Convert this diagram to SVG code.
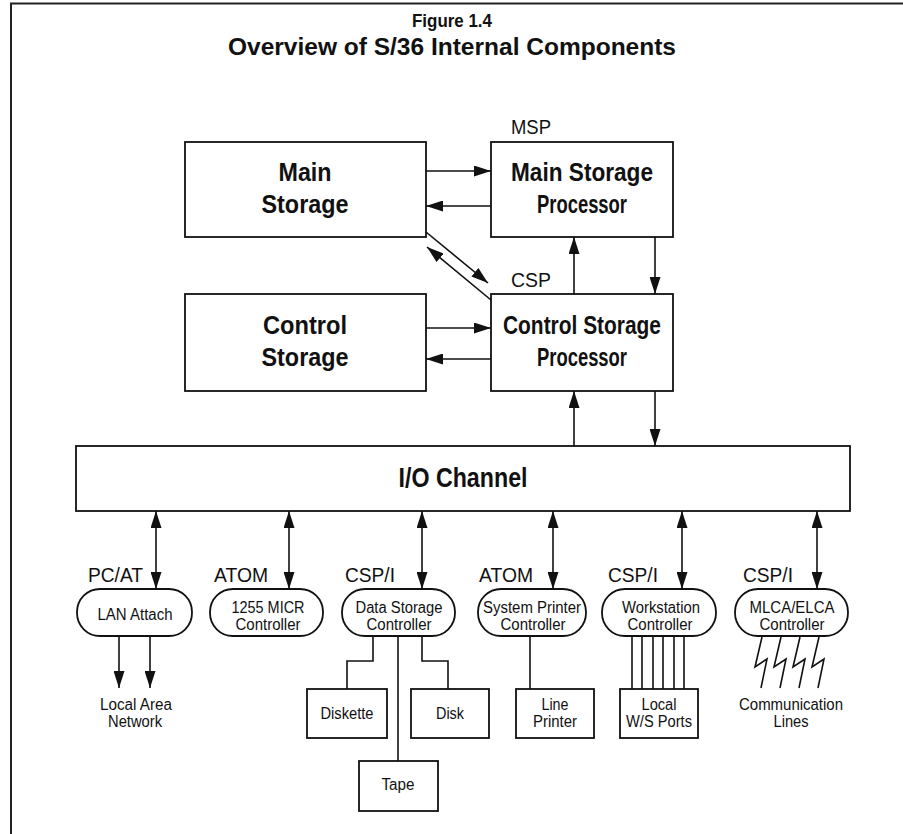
<svg xmlns="http://www.w3.org/2000/svg" width="903" height="834" viewBox="0 0 903 834">
<style>
.box{fill:#fff;stroke:#111;stroke-width:1.8}
.ln{fill:none;stroke:#111;stroke-width:1.6}
.t{font-family:"Liberation Sans",Arial,sans-serif;fill:#111;text-anchor:middle}
.s{text-anchor:start}
.b{font-weight:bold}
.big{font-size:25px;font-weight:bold}
.lab{font-size:20px}
.sm{font-size:16px}
</style>
<defs>
<marker id="ah" viewBox="0 0 17 11" refX="17" refY="5.5" markerWidth="17" markerHeight="11" markerUnits="userSpaceOnUse" orient="auto-start-reverse">
<path d="M0,0 L17,5.5 L0,11 z" fill="#111"/>
</marker>
</defs>
<rect width="903" height="834" fill="#fff"/>
<path d="M11,834 V3.5 H903" fill="none" stroke="#222" stroke-width="2"/>
<text class="t b" x="452" y="27" font-size="18" textLength="80" lengthAdjust="spacingAndGlyphs">Figure 1.4</text>
<text class="t b" x="452" y="55" font-size="24" textLength="448" lengthAdjust="spacingAndGlyphs">Overview of S/36 Internal Components</text>

<g id="main-storage"><rect class="box" x="185" y="142" width="241" height="95"/>
<text class="t big" x="305" y="181" textLength="53" lengthAdjust="spacingAndGlyphs">Main</text>
<text class="t big" x="305" y="213" textLength="87" lengthAdjust="spacingAndGlyphs">Storage</text></g>

<g id="msp"><text class="t lab s" x="511" y="134" textLength="40" lengthAdjust="spacingAndGlyphs">MSP</text>
<rect class="box" x="491" y="142" width="182" height="95"/>
<text class="t big" x="582" y="181" textLength="142" lengthAdjust="spacingAndGlyphs">Main Storage</text>
<text class="t big" x="582" y="213" textLength="90" lengthAdjust="spacingAndGlyphs">Processor</text></g>

<g id="control-storage"><rect class="box" x="185" y="294" width="241" height="97"/>
<text class="t big" x="305" y="334" textLength="84" lengthAdjust="spacingAndGlyphs">Control</text>
<text class="t big" x="305" y="366" textLength="87" lengthAdjust="spacingAndGlyphs">Storage</text></g>

<g id="csp"><text class="t lab s" x="511" y="287" textLength="40" lengthAdjust="spacingAndGlyphs">CSP</text>
<rect class="box" x="491" y="294" width="182" height="97"/>
<text class="t big" x="582" y="334" textLength="158" lengthAdjust="spacingAndGlyphs">Control Storage</text>
<text class="t big" x="582" y="366" textLength="90" lengthAdjust="spacingAndGlyphs">Processor</text></g>

<g id="io-channel"><rect class="box" x="76" y="446" width="774" height="65"/>
<text class="t b" font-size="27" x="463" y="487" textLength="129" lengthAdjust="spacingAndGlyphs">I/O Channel</text></g>

<g id="lan"><text class="t lab s" x="88" y="582" textLength="55" lengthAdjust="spacingAndGlyphs">PC/AT</text>
<rect class="box" x="77" y="589" width="115" height="47" rx="23" ry="23"/>
<text class="t sm" x="135" y="620" textLength="75" lengthAdjust="spacingAndGlyphs">LAN Attach</text></g>

<g id="micr"><text class="t lab s" x="214" y="582" textLength="54" lengthAdjust="spacingAndGlyphs">ATOM</text>
<rect class="box" x="210" y="589" width="113" height="47" rx="23" ry="23"/>
<text class="t sm" x="268" y="613" textLength="73" lengthAdjust="spacingAndGlyphs">1255 MICR</text>
<text class="t sm" x="268" y="630" textLength="65" lengthAdjust="spacingAndGlyphs">Controller</text></g>

<g id="dsc"><text class="t lab s" x="345" y="582" textLength="50" lengthAdjust="spacingAndGlyphs">CSP/I</text>
<rect class="box" x="342" y="589" width="113" height="47" rx="23" ry="23"/>
<text class="t sm" x="399" y="613" textLength="87" lengthAdjust="spacingAndGlyphs">Data Storage</text>
<text class="t sm" x="399" y="630" textLength="65" lengthAdjust="spacingAndGlyphs">Controller</text></g>

<g id="spc"><text class="t lab s" x="479" y="582" textLength="54" lengthAdjust="spacingAndGlyphs">ATOM</text>
<rect class="box" x="478" y="589" width="108" height="47" rx="23" ry="23"/>
<text class="t sm" x="532" y="613" textLength="98" lengthAdjust="spacingAndGlyphs">System Printer</text>
<text class="t sm" x="533" y="630" textLength="65" lengthAdjust="spacingAndGlyphs">Controller</text></g>

<g id="wsc"><text class="t lab s" x="608" y="582" textLength="50" lengthAdjust="spacingAndGlyphs">CSP/I</text>
<rect class="box" x="602" y="589" width="114" height="47" rx="23" ry="23"/>
<text class="t sm" x="661" y="613" textLength="78" lengthAdjust="spacingAndGlyphs">Workstation</text>
<text class="t sm" x="660" y="630" textLength="65" lengthAdjust="spacingAndGlyphs">Controller</text></g>

<g id="mlca"><text class="t lab s" x="743" y="582" textLength="50" lengthAdjust="spacingAndGlyphs">CSP/I</text>
<rect class="box" x="735" y="589" width="113" height="47" rx="23" ry="23"/>
<text class="t sm" x="792" y="613" textLength="85" lengthAdjust="spacingAndGlyphs">MLCA/ELCA</text>
<text class="t sm" x="792" y="630" textLength="65" lengthAdjust="spacingAndGlyphs">Controller</text></g>

<g id="lan-net"><text class="t sm" x="136" y="710" textLength="72" lengthAdjust="spacingAndGlyphs">Local Area</text>
<text class="t sm" x="135" y="727" textLength="54" lengthAdjust="spacingAndGlyphs">Network</text></g>

<g id="diskette"><rect class="box" x="307" y="689" width="80" height="49"/>
<text class="t sm" x="347" y="719" textLength="53" lengthAdjust="spacingAndGlyphs">Diskette</text></g>
<g id="disk"><rect class="box" x="411" y="689" width="78" height="49"/>
<text class="t sm" x="450" y="719" textLength="28" lengthAdjust="spacingAndGlyphs">Disk</text></g>
<g id="tape"><rect class="box" x="359" y="761" width="79" height="50"/>
<text class="t sm" x="398" y="790" textLength="33" lengthAdjust="spacingAndGlyphs">Tape</text></g>
<g id="line-printer"><rect class="box" x="516" y="689" width="78" height="49"/>
<text class="t sm" x="555" y="710" textLength="27" lengthAdjust="spacingAndGlyphs">Line</text>
<text class="t sm" x="555" y="727" textLength="44" lengthAdjust="spacingAndGlyphs">Printer</text></g>
<g id="ws-ports"><rect class="box" x="620" y="689" width="78" height="49"/>
<text class="t sm" x="659" y="710" textLength="35" lengthAdjust="spacingAndGlyphs">Local</text>
<text class="t sm" x="659" y="727" textLength="66" lengthAdjust="spacingAndGlyphs">W/S Ports</text></g>
<g id="comm-lines"><text class="t sm" x="791" y="710" textLength="104" lengthAdjust="spacingAndGlyphs">Communication</text>
<text class="t sm" x="791" y="727" textLength="35" lengthAdjust="spacingAndGlyphs">Lines</text></g>

<g id="connectors">
<line class="ln" x1="426" y1="171" x2="491" y2="171" marker-end="url(#ah)"/>
<line class="ln" x1="491" y1="206" x2="426" y2="206" marker-end="url(#ah)"/>
<line class="ln" x1="426" y1="232" x2="488" y2="283" marker-end="url(#ah)"/>
<line class="ln" x1="491" y1="300" x2="427" y2="247" marker-end="url(#ah)"/>
<line class="ln" x1="574" y1="294" x2="574" y2="237" marker-end="url(#ah)"/>
<line class="ln" x1="655" y1="237" x2="655" y2="294" marker-end="url(#ah)"/>
<line class="ln" x1="426" y1="328" x2="491" y2="328" marker-end="url(#ah)"/>
<line class="ln" x1="491" y1="359" x2="426" y2="359" marker-end="url(#ah)"/>
<line class="ln" x1="574" y1="446" x2="574" y2="391" marker-end="url(#ah)"/>
<line class="ln" x1="655" y1="391" x2="655" y2="446" marker-end="url(#ah)"/>
<line class="ln" x1="156" y1="511" x2="156" y2="589" marker-start="url(#ah)" marker-end="url(#ah)"/>
<line class="ln" x1="289" y1="511" x2="289" y2="589" marker-start="url(#ah)" marker-end="url(#ah)"/>
<line class="ln" x1="422" y1="511" x2="422" y2="589" marker-start="url(#ah)" marker-end="url(#ah)"/>
<line class="ln" x1="553" y1="511" x2="553" y2="589" marker-start="url(#ah)" marker-end="url(#ah)"/>
<line class="ln" x1="682" y1="511" x2="682" y2="589" marker-start="url(#ah)" marker-end="url(#ah)"/>
<line class="ln" x1="817" y1="511" x2="817" y2="589" marker-start="url(#ah)" marker-end="url(#ah)"/>
<line class="ln" x1="119" y1="636" x2="119" y2="688" marker-end="url(#ah)"/>
<line class="ln" x1="150" y1="636" x2="150" y2="688" marker-end="url(#ah)"/>
<path class="ln" d="M373,636 V661 H347 V689"/>
<path class="ln" d="M398,636 V761"/>
<path class="ln" d="M422,636 V661 H448 V689"/>
<path class="ln" d="M530,636 V689"/>
<path class="ln" d="M632,636 V689 M642,636 V689 M653,636 V689 M663,636 V689 M674,636 V689 M684,636 V689"/>
<path class="ln" d="M762,637 L755,667 L767,659 L761,688 M781,637 L774,667 L786,659 L780,688 M800,637 L793,667 L805,659 L799,688 M819,637 L812,667 L824,659 L818,688"/>
</g>
</svg>
